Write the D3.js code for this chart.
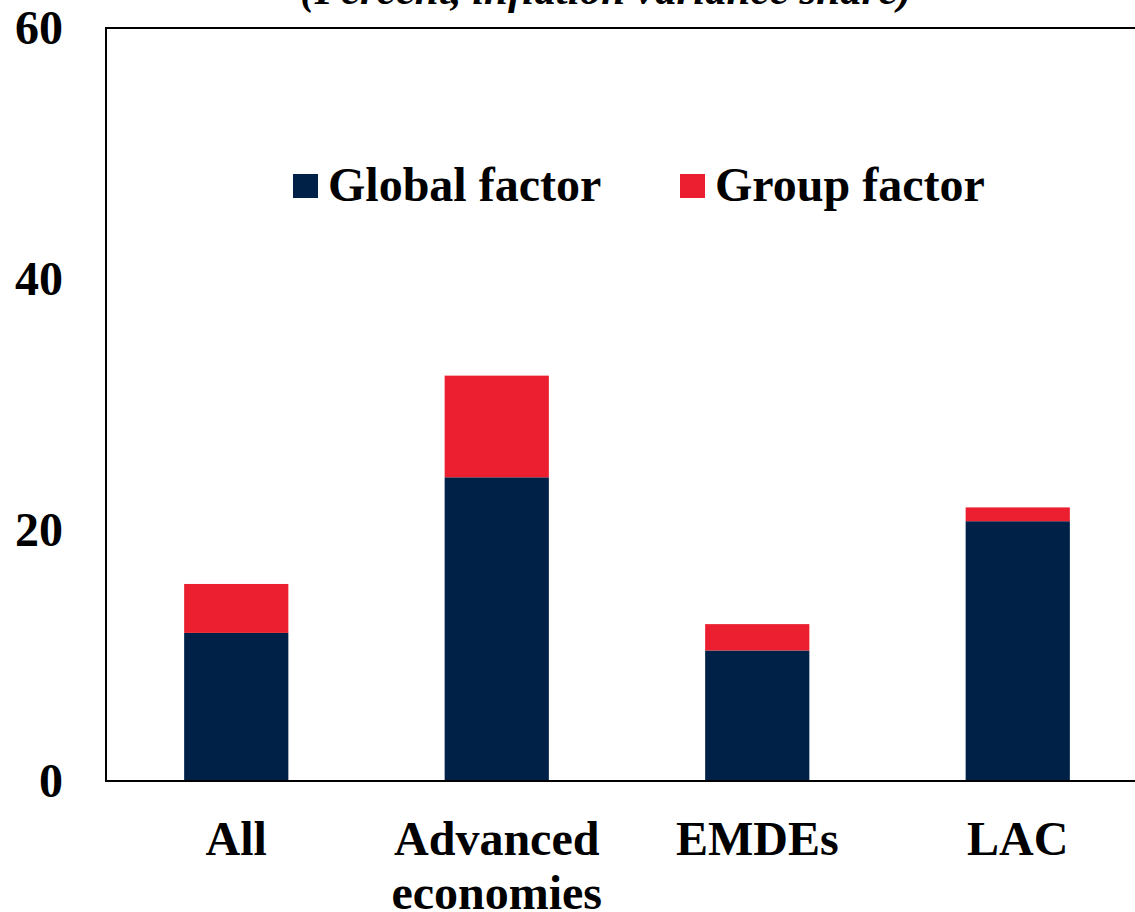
<!DOCTYPE html>
<html><head><meta charset="utf-8">
<script src="https://cdn.jsdelivr.net/npm/d3@7"></script>
<style>body{margin:0;background:#fff}svg{display:block}text{font-family:"Liberation Serif","Times New Roman",serif;font-weight:bold}</style>
</head><body><svg id="c" width="1135" height="912"></svg>
<script>
const categories = [["All"], ["Advanced", "economies"], ["EMDEs"], ["LAC"]];
const globalFactor = [11.8, 24.2, 10.4, 20.7];
const groupFactor = [3.9, 8.1, 2.1, 1.1];
const seriesNames = ["Global factor", "Group factor"];
const colors = ["#002147", "#EB1F2F"];
const yTicks = [0, 20, 40, 60];
const title = "(Percent, inflation variance share)";

const svg = d3.select("#c");
const x = d3.scaleBand().domain(d3.range(categories.length)).range([106, 1148]).paddingInner(0.6).paddingOuter(0.3);
const y = d3.scaleLinear().domain([0, 60]).range([781, 28]);

// title (cut at top)
svg.append("text").attr("x", 606).attr("y", 4).attr("text-anchor", "middle")
  .attr("font-size", 43).attr("font-style", "italic").text(title);

// bars
const stack = d3.stack().keys([0, 1])(categories.map((c, i) => ({0: globalFactor[i], 1: groupFactor[i]})));
stack.forEach((s, k) => {
  svg.append("g").selectAll("rect").data(s).join("rect")
    .attr("x", (d, i) => x(i)).attr("width", x.bandwidth())
    .attr("y", d => y(d[1])).attr("height", d => y(d[0]) - y(d[1]))
    .attr("fill", colors[k]);
});

// frame
svg.append("rect").attr("x", 106).attr("y", y(60)).attr("width", 1148 - 106).attr("height", y(0) - y(60))
  .attr("fill", "none").attr("stroke", "#000").attr("stroke-width", 2);

// y axis labels
const ya = svg.append("g").attr("transform", "translate(106,0)")
  .call(d3.axisLeft(y).tickValues(yTicks).tickSize(0).tickPadding(43));
ya.select(".domain").remove();
ya.selectAll("text").attr("font-size", 48).attr("fill", "#000").attr("font-family", "Liberation Serif").attr("font-weight", "bold");

// x labels
categories.forEach((lines, i) => {
  const t = svg.append("text").attr("x", x(i) + x.bandwidth() / 2).attr("y", 855)
    .attr("text-anchor", "middle").attr("font-size", 48);
  lines.forEach((l, j) => t.append("tspan").attr("x", x(i) + x.bandwidth() / 2).attr("dy", j ? 54 : 0).text(l));
});

// legend
const legX = [293, 680];
seriesNames.forEach((n, i) => {
  svg.append("rect").attr("x", legX[i]).attr("y", 174).attr("width", 25).attr("height", 24).attr("fill", colors[i]);
  svg.append("text").attr("x", legX[i] + 35).attr("y", 201).attr("font-size", 48).text(n);
});
</script></body></html>
